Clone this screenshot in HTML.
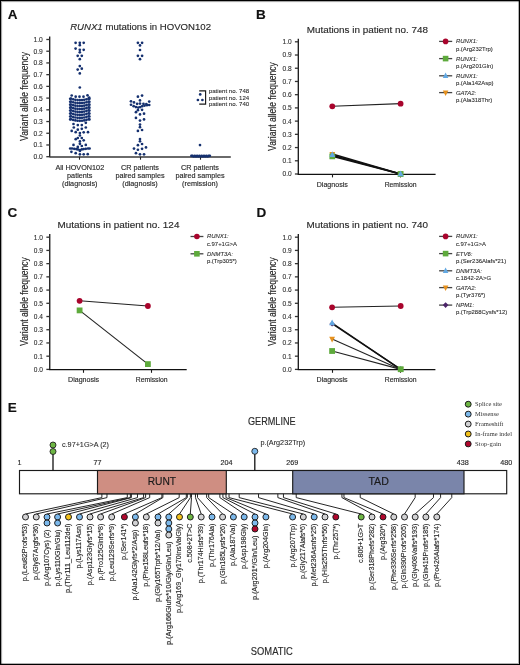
<!DOCTYPE html>
<html><head><meta charset="utf-8"><style>
html,body{margin:0;padding:0;background:#fff;}
body{width:520px;height:665px;overflow:hidden;}
.wrap{position:relative;width:520px;height:665px;box-sizing:border-box;border:1px solid #000;box-shadow:inset 1px 1px 0 rgba(0,0,0,0.32),inset -1px -1px 0 rgba(0,0,0,0.3),inset 2px 2px 0 rgba(0,0,0,0.04);}
svg{position:absolute;left:-1px;top:-1px;will-change:transform;}
text{font-family:"Liberation Sans", sans-serif;}
</style></head><body><div class="wrap">
<svg width="520" height="665" viewBox="0 0 520 665">
<text x="7.70" y="18.70" font-size="13.5" text-anchor="start" fill="#111" stroke="#111" stroke-width="0.150" font-weight="bold" font-style="normal" >A</text>
<text x="70.2" y="29.9" font-size="9.6" fill="#2a2a2a" stroke="#2a2a2a" stroke-width="0.15" textLength="140.8" lengthAdjust="spacingAndGlyphs"><tspan font-style="italic">RUNX1</tspan> mutations in HOVON102</text>
<line x1="49.70" y1="36.40" x2="49.70" y2="157.30" stroke="#151515" stroke-width="1.3"/>
<line x1="46.30" y1="156.70" x2="49.70" y2="156.70" stroke="#333" stroke-width="1.3"/>
<text x="42.80" y="159.11" font-size="6.7" text-anchor="end" fill="#2a2a2a" stroke="#2a2a2a" stroke-width="0.090" font-weight="normal" font-style="normal" >0.0</text>
<line x1="46.30" y1="144.98" x2="49.70" y2="144.98" stroke="#333" stroke-width="1.3"/>
<text x="42.80" y="147.39" font-size="6.7" text-anchor="end" fill="#2a2a2a" stroke="#2a2a2a" stroke-width="0.090" font-weight="normal" font-style="normal" >0.1</text>
<line x1="46.30" y1="133.26" x2="49.70" y2="133.26" stroke="#333" stroke-width="1.3"/>
<text x="42.80" y="135.67" font-size="6.7" text-anchor="end" fill="#2a2a2a" stroke="#2a2a2a" stroke-width="0.090" font-weight="normal" font-style="normal" >0.2</text>
<line x1="46.30" y1="121.54" x2="49.70" y2="121.54" stroke="#333" stroke-width="1.3"/>
<text x="42.80" y="123.95" font-size="6.7" text-anchor="end" fill="#2a2a2a" stroke="#2a2a2a" stroke-width="0.090" font-weight="normal" font-style="normal" >0.3</text>
<line x1="46.30" y1="109.82" x2="49.70" y2="109.82" stroke="#333" stroke-width="1.3"/>
<text x="42.80" y="112.23" font-size="6.7" text-anchor="end" fill="#2a2a2a" stroke="#2a2a2a" stroke-width="0.090" font-weight="normal" font-style="normal" >0.4</text>
<line x1="46.30" y1="98.10" x2="49.70" y2="98.10" stroke="#333" stroke-width="1.3"/>
<text x="42.80" y="100.51" font-size="6.7" text-anchor="end" fill="#2a2a2a" stroke="#2a2a2a" stroke-width="0.090" font-weight="normal" font-style="normal" >0.5</text>
<line x1="46.30" y1="86.38" x2="49.70" y2="86.38" stroke="#333" stroke-width="1.3"/>
<text x="42.80" y="88.79" font-size="6.7" text-anchor="end" fill="#2a2a2a" stroke="#2a2a2a" stroke-width="0.090" font-weight="normal" font-style="normal" >0.6</text>
<line x1="46.30" y1="74.66" x2="49.70" y2="74.66" stroke="#333" stroke-width="1.3"/>
<text x="42.80" y="77.07" font-size="6.7" text-anchor="end" fill="#2a2a2a" stroke="#2a2a2a" stroke-width="0.090" font-weight="normal" font-style="normal" >0.7</text>
<line x1="46.30" y1="62.94" x2="49.70" y2="62.94" stroke="#333" stroke-width="1.3"/>
<text x="42.80" y="65.35" font-size="6.7" text-anchor="end" fill="#2a2a2a" stroke="#2a2a2a" stroke-width="0.090" font-weight="normal" font-style="normal" >0.8</text>
<line x1="46.30" y1="51.22" x2="49.70" y2="51.22" stroke="#333" stroke-width="1.3"/>
<text x="42.80" y="53.63" font-size="6.7" text-anchor="end" fill="#2a2a2a" stroke="#2a2a2a" stroke-width="0.090" font-weight="normal" font-style="normal" >0.9</text>
<line x1="46.30" y1="39.50" x2="49.70" y2="39.50" stroke="#333" stroke-width="1.3"/>
<text x="42.80" y="41.91" font-size="6.7" text-anchor="end" fill="#2a2a2a" stroke="#2a2a2a" stroke-width="0.090" font-weight="normal" font-style="normal" >1.0</text>
<line x1="49.70" y1="157.00" x2="230.80" y2="157.00" stroke="#383838" stroke-width="1.6"/>
<line x1="79.50" y1="156.70" x2="79.50" y2="159.70" stroke="#222" stroke-width="1.1"/>
<line x1="140.50" y1="156.70" x2="140.50" y2="159.70" stroke="#222" stroke-width="1.1"/>
<line x1="200.50" y1="156.70" x2="200.50" y2="159.70" stroke="#222" stroke-width="1.1"/>
<text transform="translate(27.50,96.50) rotate(-90)" x="0" y="0" font-size="11.0" text-anchor="middle" fill="#2a2a2a" stroke="#2a2a2a" stroke-width="0.15" textLength="88.9" lengthAdjust="spacingAndGlyphs">Variant allele frequency</text>
<text x="79.80" y="169.80" font-size="7.1" text-anchor="middle" fill="#2a2a2a" stroke="#2a2a2a" stroke-width="0.150" font-weight="normal" font-style="normal" textLength="48.75" lengthAdjust="spacingAndGlyphs" >All HOVON102</text>
<text x="79.80" y="178.00" font-size="7.1" text-anchor="middle" fill="#2a2a2a" stroke="#2a2a2a" stroke-width="0.150" font-weight="normal" font-style="normal" textLength="25.39" lengthAdjust="spacingAndGlyphs" >patients</text>
<text x="79.80" y="186.20" font-size="7.1" text-anchor="middle" fill="#2a2a2a" stroke="#2a2a2a" stroke-width="0.150" font-weight="normal" font-style="normal" textLength="35.46" lengthAdjust="spacingAndGlyphs" >(diagnosis)</text>
<text x="140.00" y="169.80" font-size="7.1" text-anchor="middle" fill="#2a2a2a" stroke="#2a2a2a" stroke-width="0.150" font-weight="normal" font-style="normal" textLength="37.88" lengthAdjust="spacingAndGlyphs" >CR patients</text>
<text x="140.00" y="178.00" font-size="7.1" text-anchor="middle" fill="#2a2a2a" stroke="#2a2a2a" stroke-width="0.150" font-weight="normal" font-style="normal" textLength="49.16" lengthAdjust="spacingAndGlyphs" >paired samples</text>
<text x="140.00" y="186.20" font-size="7.1" text-anchor="middle" fill="#2a2a2a" stroke="#2a2a2a" stroke-width="0.150" font-weight="normal" font-style="normal" textLength="35.46" lengthAdjust="spacingAndGlyphs" >(diagnosis)</text>
<text x="200.00" y="169.80" font-size="7.1" text-anchor="middle" fill="#2a2a2a" stroke="#2a2a2a" stroke-width="0.150" font-weight="normal" font-style="normal" textLength="37.88" lengthAdjust="spacingAndGlyphs" >CR patients</text>
<text x="200.00" y="178.00" font-size="7.1" text-anchor="middle" fill="#2a2a2a" stroke="#2a2a2a" stroke-width="0.150" font-weight="normal" font-style="normal" textLength="49.16" lengthAdjust="spacingAndGlyphs" >paired samples</text>
<text x="200.00" y="186.20" font-size="7.1" text-anchor="middle" fill="#2a2a2a" stroke="#2a2a2a" stroke-width="0.150" font-weight="normal" font-style="normal" textLength="35.85" lengthAdjust="spacingAndGlyphs" >(remission)</text>
<circle cx="75.60" cy="42.80" r="1.35" fill="#15306f" stroke="none" stroke-width="0"/>
<circle cx="79.80" cy="42.80" r="1.35" fill="#15306f" stroke="none" stroke-width="0"/>
<circle cx="83.70" cy="42.80" r="1.35" fill="#15306f" stroke="none" stroke-width="0"/>
<circle cx="79.80" cy="45.20" r="1.35" fill="#15306f" stroke="none" stroke-width="0"/>
<circle cx="75.60" cy="48.60" r="1.35" fill="#15306f" stroke="none" stroke-width="0"/>
<circle cx="79.80" cy="49.80" r="1.35" fill="#15306f" stroke="none" stroke-width="0"/>
<circle cx="83.70" cy="49.80" r="1.35" fill="#15306f" stroke="none" stroke-width="0"/>
<circle cx="79.80" cy="52.30" r="1.35" fill="#15306f" stroke="none" stroke-width="0"/>
<circle cx="77.70" cy="55.80" r="1.35" fill="#15306f" stroke="none" stroke-width="0"/>
<circle cx="81.80" cy="55.80" r="1.35" fill="#15306f" stroke="none" stroke-width="0"/>
<circle cx="79.80" cy="59.20" r="1.35" fill="#15306f" stroke="none" stroke-width="0"/>
<circle cx="79.80" cy="66.10" r="1.35" fill="#15306f" stroke="none" stroke-width="0"/>
<circle cx="77.70" cy="69.60" r="1.35" fill="#15306f" stroke="none" stroke-width="0"/>
<circle cx="81.80" cy="68.70" r="1.35" fill="#15306f" stroke="none" stroke-width="0"/>
<circle cx="79.80" cy="73.40" r="1.35" fill="#15306f" stroke="none" stroke-width="0"/>
<circle cx="79.80" cy="87.50" r="1.35" fill="#15306f" stroke="none" stroke-width="0"/>
<circle cx="71.70" cy="95.50" r="1.35" fill="#15306f" stroke="none" stroke-width="0"/>
<circle cx="75.70" cy="96.70" r="1.35" fill="#15306f" stroke="none" stroke-width="0"/>
<circle cx="79.50" cy="96.70" r="1.35" fill="#15306f" stroke="none" stroke-width="0"/>
<circle cx="83.50" cy="96.70" r="1.35" fill="#15306f" stroke="none" stroke-width="0"/>
<circle cx="87.50" cy="95.30" r="1.35" fill="#15306f" stroke="none" stroke-width="0"/>
<circle cx="89.20" cy="97.70" r="1.35" fill="#15306f" stroke="none" stroke-width="0"/>
<circle cx="71.00" cy="98.60" r="1.35" fill="#15306f" stroke="none" stroke-width="0"/>
<circle cx="73.20" cy="99.30" r="1.35" fill="#15306f" stroke="none" stroke-width="0"/>
<circle cx="75.40" cy="99.80" r="1.35" fill="#15306f" stroke="none" stroke-width="0"/>
<circle cx="77.60" cy="100.10" r="1.35" fill="#15306f" stroke="none" stroke-width="0"/>
<circle cx="79.80" cy="100.20" r="1.35" fill="#15306f" stroke="none" stroke-width="0"/>
<circle cx="82.00" cy="100.10" r="1.35" fill="#15306f" stroke="none" stroke-width="0"/>
<circle cx="84.20" cy="99.80" r="1.35" fill="#15306f" stroke="none" stroke-width="0"/>
<circle cx="86.40" cy="99.30" r="1.35" fill="#15306f" stroke="none" stroke-width="0"/>
<circle cx="88.60" cy="98.60" r="1.35" fill="#15306f" stroke="none" stroke-width="0"/>
<circle cx="70.20" cy="98.80" r="1.35" fill="#15306f" stroke="none" stroke-width="0"/>
<circle cx="89.40" cy="98.80" r="1.35" fill="#15306f" stroke="none" stroke-width="0"/>
<circle cx="71.00" cy="101.55" r="1.35" fill="#15306f" stroke="none" stroke-width="0"/>
<circle cx="73.20" cy="102.25" r="1.35" fill="#15306f" stroke="none" stroke-width="0"/>
<circle cx="75.40" cy="102.75" r="1.35" fill="#15306f" stroke="none" stroke-width="0"/>
<circle cx="77.60" cy="103.05" r="1.35" fill="#15306f" stroke="none" stroke-width="0"/>
<circle cx="79.80" cy="103.15" r="1.35" fill="#15306f" stroke="none" stroke-width="0"/>
<circle cx="82.00" cy="103.05" r="1.35" fill="#15306f" stroke="none" stroke-width="0"/>
<circle cx="84.20" cy="102.75" r="1.35" fill="#15306f" stroke="none" stroke-width="0"/>
<circle cx="86.40" cy="102.25" r="1.35" fill="#15306f" stroke="none" stroke-width="0"/>
<circle cx="88.60" cy="101.55" r="1.35" fill="#15306f" stroke="none" stroke-width="0"/>
<circle cx="70.20" cy="101.75" r="1.35" fill="#15306f" stroke="none" stroke-width="0"/>
<circle cx="89.40" cy="101.75" r="1.35" fill="#15306f" stroke="none" stroke-width="0"/>
<circle cx="71.00" cy="104.50" r="1.35" fill="#15306f" stroke="none" stroke-width="0"/>
<circle cx="73.20" cy="105.20" r="1.35" fill="#15306f" stroke="none" stroke-width="0"/>
<circle cx="75.40" cy="105.70" r="1.35" fill="#15306f" stroke="none" stroke-width="0"/>
<circle cx="77.60" cy="106.00" r="1.35" fill="#15306f" stroke="none" stroke-width="0"/>
<circle cx="79.80" cy="106.10" r="1.35" fill="#15306f" stroke="none" stroke-width="0"/>
<circle cx="82.00" cy="106.00" r="1.35" fill="#15306f" stroke="none" stroke-width="0"/>
<circle cx="84.20" cy="105.70" r="1.35" fill="#15306f" stroke="none" stroke-width="0"/>
<circle cx="86.40" cy="105.20" r="1.35" fill="#15306f" stroke="none" stroke-width="0"/>
<circle cx="88.60" cy="104.50" r="1.35" fill="#15306f" stroke="none" stroke-width="0"/>
<circle cx="70.20" cy="104.70" r="1.35" fill="#15306f" stroke="none" stroke-width="0"/>
<circle cx="89.40" cy="104.70" r="1.35" fill="#15306f" stroke="none" stroke-width="0"/>
<circle cx="71.00" cy="107.45" r="1.35" fill="#15306f" stroke="none" stroke-width="0"/>
<circle cx="73.20" cy="108.15" r="1.35" fill="#15306f" stroke="none" stroke-width="0"/>
<circle cx="75.40" cy="108.65" r="1.35" fill="#15306f" stroke="none" stroke-width="0"/>
<circle cx="77.60" cy="108.95" r="1.35" fill="#15306f" stroke="none" stroke-width="0"/>
<circle cx="79.80" cy="109.05" r="1.35" fill="#15306f" stroke="none" stroke-width="0"/>
<circle cx="82.00" cy="108.95" r="1.35" fill="#15306f" stroke="none" stroke-width="0"/>
<circle cx="84.20" cy="108.65" r="1.35" fill="#15306f" stroke="none" stroke-width="0"/>
<circle cx="86.40" cy="108.15" r="1.35" fill="#15306f" stroke="none" stroke-width="0"/>
<circle cx="88.60" cy="107.45" r="1.35" fill="#15306f" stroke="none" stroke-width="0"/>
<circle cx="70.20" cy="107.65" r="1.35" fill="#15306f" stroke="none" stroke-width="0"/>
<circle cx="89.40" cy="107.65" r="1.35" fill="#15306f" stroke="none" stroke-width="0"/>
<circle cx="71.00" cy="110.40" r="1.35" fill="#15306f" stroke="none" stroke-width="0"/>
<circle cx="73.20" cy="111.10" r="1.35" fill="#15306f" stroke="none" stroke-width="0"/>
<circle cx="75.40" cy="111.60" r="1.35" fill="#15306f" stroke="none" stroke-width="0"/>
<circle cx="77.60" cy="111.90" r="1.35" fill="#15306f" stroke="none" stroke-width="0"/>
<circle cx="79.80" cy="112.00" r="1.35" fill="#15306f" stroke="none" stroke-width="0"/>
<circle cx="82.00" cy="111.90" r="1.35" fill="#15306f" stroke="none" stroke-width="0"/>
<circle cx="84.20" cy="111.60" r="1.35" fill="#15306f" stroke="none" stroke-width="0"/>
<circle cx="86.40" cy="111.10" r="1.35" fill="#15306f" stroke="none" stroke-width="0"/>
<circle cx="88.60" cy="110.40" r="1.35" fill="#15306f" stroke="none" stroke-width="0"/>
<circle cx="70.20" cy="110.60" r="1.35" fill="#15306f" stroke="none" stroke-width="0"/>
<circle cx="89.40" cy="110.60" r="1.35" fill="#15306f" stroke="none" stroke-width="0"/>
<circle cx="71.00" cy="113.35" r="1.35" fill="#15306f" stroke="none" stroke-width="0"/>
<circle cx="73.20" cy="114.05" r="1.35" fill="#15306f" stroke="none" stroke-width="0"/>
<circle cx="75.40" cy="114.55" r="1.35" fill="#15306f" stroke="none" stroke-width="0"/>
<circle cx="77.60" cy="114.85" r="1.35" fill="#15306f" stroke="none" stroke-width="0"/>
<circle cx="79.80" cy="114.95" r="1.35" fill="#15306f" stroke="none" stroke-width="0"/>
<circle cx="82.00" cy="114.85" r="1.35" fill="#15306f" stroke="none" stroke-width="0"/>
<circle cx="84.20" cy="114.55" r="1.35" fill="#15306f" stroke="none" stroke-width="0"/>
<circle cx="86.40" cy="114.05" r="1.35" fill="#15306f" stroke="none" stroke-width="0"/>
<circle cx="88.60" cy="113.35" r="1.35" fill="#15306f" stroke="none" stroke-width="0"/>
<circle cx="70.20" cy="113.55" r="1.35" fill="#15306f" stroke="none" stroke-width="0"/>
<circle cx="89.40" cy="113.55" r="1.35" fill="#15306f" stroke="none" stroke-width="0"/>
<circle cx="71.00" cy="116.30" r="1.35" fill="#15306f" stroke="none" stroke-width="0"/>
<circle cx="73.20" cy="117.00" r="1.35" fill="#15306f" stroke="none" stroke-width="0"/>
<circle cx="75.40" cy="117.50" r="1.35" fill="#15306f" stroke="none" stroke-width="0"/>
<circle cx="77.60" cy="117.80" r="1.35" fill="#15306f" stroke="none" stroke-width="0"/>
<circle cx="79.80" cy="117.90" r="1.35" fill="#15306f" stroke="none" stroke-width="0"/>
<circle cx="82.00" cy="117.80" r="1.35" fill="#15306f" stroke="none" stroke-width="0"/>
<circle cx="84.20" cy="117.50" r="1.35" fill="#15306f" stroke="none" stroke-width="0"/>
<circle cx="86.40" cy="117.00" r="1.35" fill="#15306f" stroke="none" stroke-width="0"/>
<circle cx="88.60" cy="116.30" r="1.35" fill="#15306f" stroke="none" stroke-width="0"/>
<circle cx="70.20" cy="116.50" r="1.35" fill="#15306f" stroke="none" stroke-width="0"/>
<circle cx="89.40" cy="116.50" r="1.35" fill="#15306f" stroke="none" stroke-width="0"/>
<circle cx="71.00" cy="119.25" r="1.35" fill="#15306f" stroke="none" stroke-width="0"/>
<circle cx="73.20" cy="119.95" r="1.35" fill="#15306f" stroke="none" stroke-width="0"/>
<circle cx="75.40" cy="120.45" r="1.35" fill="#15306f" stroke="none" stroke-width="0"/>
<circle cx="77.60" cy="120.75" r="1.35" fill="#15306f" stroke="none" stroke-width="0"/>
<circle cx="79.80" cy="120.85" r="1.35" fill="#15306f" stroke="none" stroke-width="0"/>
<circle cx="82.00" cy="120.75" r="1.35" fill="#15306f" stroke="none" stroke-width="0"/>
<circle cx="84.20" cy="120.45" r="1.35" fill="#15306f" stroke="none" stroke-width="0"/>
<circle cx="86.40" cy="119.95" r="1.35" fill="#15306f" stroke="none" stroke-width="0"/>
<circle cx="88.60" cy="119.25" r="1.35" fill="#15306f" stroke="none" stroke-width="0"/>
<circle cx="70.20" cy="119.45" r="1.35" fill="#15306f" stroke="none" stroke-width="0"/>
<circle cx="89.40" cy="119.45" r="1.35" fill="#15306f" stroke="none" stroke-width="0"/>
<circle cx="85.80" cy="122.80" r="1.35" fill="#15306f" stroke="none" stroke-width="0"/>
<circle cx="73.50" cy="124.00" r="1.35" fill="#15306f" stroke="none" stroke-width="0"/>
<circle cx="77.80" cy="125.10" r="1.35" fill="#15306f" stroke="none" stroke-width="0"/>
<circle cx="81.80" cy="125.10" r="1.35" fill="#15306f" stroke="none" stroke-width="0"/>
<circle cx="73.80" cy="127.50" r="1.35" fill="#15306f" stroke="none" stroke-width="0"/>
<circle cx="85.80" cy="127.50" r="1.35" fill="#15306f" stroke="none" stroke-width="0"/>
<circle cx="81.80" cy="128.80" r="1.35" fill="#15306f" stroke="none" stroke-width="0"/>
<circle cx="77.80" cy="129.70" r="1.35" fill="#15306f" stroke="none" stroke-width="0"/>
<circle cx="71.70" cy="130.90" r="1.35" fill="#15306f" stroke="none" stroke-width="0"/>
<circle cx="75.70" cy="132.20" r="1.35" fill="#15306f" stroke="none" stroke-width="0"/>
<circle cx="83.70" cy="132.30" r="1.35" fill="#15306f" stroke="none" stroke-width="0"/>
<circle cx="88.00" cy="132.20" r="1.35" fill="#15306f" stroke="none" stroke-width="0"/>
<circle cx="79.90" cy="133.10" r="1.35" fill="#15306f" stroke="none" stroke-width="0"/>
<circle cx="79.90" cy="135.50" r="1.35" fill="#15306f" stroke="none" stroke-width="0"/>
<circle cx="77.80" cy="138.00" r="1.35" fill="#15306f" stroke="none" stroke-width="0"/>
<circle cx="75.70" cy="139.20" r="1.35" fill="#15306f" stroke="none" stroke-width="0"/>
<circle cx="81.80" cy="138.00" r="1.35" fill="#15306f" stroke="none" stroke-width="0"/>
<circle cx="83.70" cy="140.30" r="1.35" fill="#15306f" stroke="none" stroke-width="0"/>
<circle cx="79.90" cy="141.40" r="1.35" fill="#15306f" stroke="none" stroke-width="0"/>
<circle cx="79.90" cy="143.80" r="1.35" fill="#15306f" stroke="none" stroke-width="0"/>
<circle cx="73.50" cy="144.90" r="1.35" fill="#15306f" stroke="none" stroke-width="0"/>
<circle cx="85.80" cy="144.90" r="1.35" fill="#15306f" stroke="none" stroke-width="0"/>
<circle cx="77.80" cy="146.90" r="1.35" fill="#15306f" stroke="none" stroke-width="0"/>
<circle cx="81.80" cy="146.00" r="1.35" fill="#15306f" stroke="none" stroke-width="0"/>
<circle cx="70.20" cy="148.50" r="1.35" fill="#15306f" stroke="none" stroke-width="0"/>
<circle cx="72.00" cy="148.50" r="1.35" fill="#15306f" stroke="none" stroke-width="0"/>
<circle cx="74.20" cy="148.80" r="1.35" fill="#15306f" stroke="none" stroke-width="0"/>
<circle cx="76.30" cy="149.10" r="1.35" fill="#15306f" stroke="none" stroke-width="0"/>
<circle cx="77.80" cy="149.40" r="1.35" fill="#15306f" stroke="none" stroke-width="0"/>
<circle cx="79.90" cy="150.00" r="1.35" fill="#15306f" stroke="none" stroke-width="0"/>
<circle cx="81.80" cy="149.40" r="1.35" fill="#15306f" stroke="none" stroke-width="0"/>
<circle cx="83.70" cy="149.10" r="1.35" fill="#15306f" stroke="none" stroke-width="0"/>
<circle cx="85.80" cy="148.80" r="1.35" fill="#15306f" stroke="none" stroke-width="0"/>
<circle cx="88.00" cy="148.50" r="1.35" fill="#15306f" stroke="none" stroke-width="0"/>
<circle cx="89.60" cy="148.50" r="1.35" fill="#15306f" stroke="none" stroke-width="0"/>
<circle cx="79.90" cy="150.90" r="1.35" fill="#15306f" stroke="none" stroke-width="0"/>
<circle cx="71.40" cy="151.80" r="1.35" fill="#15306f" stroke="none" stroke-width="0"/>
<circle cx="75.70" cy="153.20" r="1.35" fill="#15306f" stroke="none" stroke-width="0"/>
<circle cx="79.90" cy="154.30" r="1.35" fill="#15306f" stroke="none" stroke-width="0"/>
<circle cx="83.70" cy="154.30" r="1.35" fill="#15306f" stroke="none" stroke-width="0"/>
<circle cx="87.70" cy="154.20" r="1.35" fill="#15306f" stroke="none" stroke-width="0"/>
<circle cx="137.90" cy="42.80" r="1.35" fill="#15306f" stroke="none" stroke-width="0"/>
<circle cx="142.10" cy="42.80" r="1.35" fill="#15306f" stroke="none" stroke-width="0"/>
<circle cx="140.00" cy="45.40" r="1.35" fill="#15306f" stroke="none" stroke-width="0"/>
<circle cx="140.00" cy="50.00" r="1.35" fill="#15306f" stroke="none" stroke-width="0"/>
<circle cx="137.90" cy="55.80" r="1.35" fill="#15306f" stroke="none" stroke-width="0"/>
<circle cx="142.10" cy="55.80" r="1.35" fill="#15306f" stroke="none" stroke-width="0"/>
<circle cx="140.00" cy="59.20" r="1.35" fill="#15306f" stroke="none" stroke-width="0"/>
<circle cx="137.91" cy="96.69" r="1.35" fill="#15306f" stroke="none" stroke-width="0"/>
<circle cx="142.06" cy="95.54" r="1.35" fill="#15306f" stroke="none" stroke-width="0"/>
<circle cx="139.99" cy="100.38" r="1.35" fill="#15306f" stroke="none" stroke-width="0"/>
<circle cx="130.99" cy="101.30" r="1.35" fill="#15306f" stroke="none" stroke-width="0"/>
<circle cx="133.99" cy="102.46" r="1.35" fill="#15306f" stroke="none" stroke-width="0"/>
<circle cx="137.10" cy="103.84" r="1.35" fill="#15306f" stroke="none" stroke-width="0"/>
<circle cx="139.99" cy="103.61" r="1.35" fill="#15306f" stroke="none" stroke-width="0"/>
<circle cx="143.45" cy="103.84" r="1.35" fill="#15306f" stroke="none" stroke-width="0"/>
<circle cx="146.33" cy="104.07" r="1.35" fill="#15306f" stroke="none" stroke-width="0"/>
<circle cx="149.22" cy="101.53" r="1.35" fill="#15306f" stroke="none" stroke-width="0"/>
<circle cx="130.99" cy="104.76" r="1.35" fill="#15306f" stroke="none" stroke-width="0"/>
<circle cx="133.64" cy="106.15" r="1.35" fill="#15306f" stroke="none" stroke-width="0"/>
<circle cx="135.95" cy="107.07" r="1.35" fill="#15306f" stroke="none" stroke-width="0"/>
<circle cx="138.26" cy="107.53" r="1.35" fill="#15306f" stroke="none" stroke-width="0"/>
<circle cx="140.22" cy="107.07" r="1.35" fill="#15306f" stroke="none" stroke-width="0"/>
<circle cx="142.30" cy="106.15" r="1.35" fill="#15306f" stroke="none" stroke-width="0"/>
<circle cx="144.60" cy="105.57" r="1.35" fill="#15306f" stroke="none" stroke-width="0"/>
<circle cx="146.91" cy="105.22" r="1.35" fill="#15306f" stroke="none" stroke-width="0"/>
<circle cx="149.22" cy="104.99" r="1.35" fill="#15306f" stroke="none" stroke-width="0"/>
<circle cx="137.91" cy="110.18" r="1.35" fill="#15306f" stroke="none" stroke-width="0"/>
<circle cx="142.06" cy="109.84" r="1.35" fill="#15306f" stroke="none" stroke-width="0"/>
<circle cx="135.95" cy="112.15" r="1.35" fill="#15306f" stroke="none" stroke-width="0"/>
<circle cx="139.99" cy="114.45" r="1.35" fill="#15306f" stroke="none" stroke-width="0"/>
<circle cx="144.03" cy="113.64" r="1.35" fill="#15306f" stroke="none" stroke-width="0"/>
<circle cx="135.95" cy="117.91" r="1.35" fill="#15306f" stroke="none" stroke-width="0"/>
<circle cx="139.99" cy="120.57" r="1.35" fill="#15306f" stroke="none" stroke-width="0"/>
<circle cx="144.03" cy="119.41" r="1.35" fill="#15306f" stroke="none" stroke-width="0"/>
<circle cx="139.99" cy="124.60" r="1.35" fill="#15306f" stroke="none" stroke-width="0"/>
<circle cx="139.99" cy="127.14" r="1.35" fill="#15306f" stroke="none" stroke-width="0"/>
<circle cx="137.91" cy="130.95" r="1.35" fill="#15306f" stroke="none" stroke-width="0"/>
<circle cx="142.06" cy="130.02" r="1.35" fill="#15306f" stroke="none" stroke-width="0"/>
<circle cx="139.99" cy="139.02" r="1.35" fill="#15306f" stroke="none" stroke-width="0"/>
<circle cx="139.99" cy="141.33" r="1.35" fill="#15306f" stroke="none" stroke-width="0"/>
<circle cx="137.91" cy="145.13" r="1.35" fill="#15306f" stroke="none" stroke-width="0"/>
<circle cx="142.06" cy="143.98" r="1.35" fill="#15306f" stroke="none" stroke-width="0"/>
<circle cx="133.99" cy="148.59" r="1.35" fill="#15306f" stroke="none" stroke-width="0"/>
<circle cx="137.91" cy="149.75" r="1.35" fill="#15306f" stroke="none" stroke-width="0"/>
<circle cx="142.06" cy="148.82" r="1.35" fill="#15306f" stroke="none" stroke-width="0"/>
<circle cx="145.99" cy="147.44" r="1.35" fill="#15306f" stroke="none" stroke-width="0"/>
<circle cx="135.95" cy="153.21" r="1.35" fill="#15306f" stroke="none" stroke-width="0"/>
<circle cx="139.99" cy="154.36" r="1.35" fill="#15306f" stroke="none" stroke-width="0"/>
<circle cx="144.03" cy="154.36" r="1.35" fill="#15306f" stroke="none" stroke-width="0"/>
<circle cx="200.20" cy="94.40" r="1.35" fill="#15306f" stroke="none" stroke-width="0"/>
<circle cx="197.90" cy="100.00" r="1.35" fill="#15306f" stroke="none" stroke-width="0"/>
<circle cx="202.40" cy="100.00" r="1.35" fill="#15306f" stroke="none" stroke-width="0"/>
<circle cx="200.00" cy="145.10" r="1.35" fill="#15306f" stroke="none" stroke-width="0"/>
<circle cx="191.40" cy="155.80" r="1.35" fill="#15306f" stroke="none" stroke-width="0"/>
<circle cx="193.70" cy="156.50" r="1.35" fill="#15306f" stroke="none" stroke-width="0"/>
<circle cx="196.00" cy="156.50" r="1.35" fill="#15306f" stroke="none" stroke-width="0"/>
<circle cx="198.30" cy="156.50" r="1.35" fill="#15306f" stroke="none" stroke-width="0"/>
<circle cx="200.60" cy="156.50" r="1.35" fill="#15306f" stroke="none" stroke-width="0"/>
<circle cx="202.90" cy="156.50" r="1.35" fill="#15306f" stroke="none" stroke-width="0"/>
<circle cx="205.20" cy="156.50" r="1.35" fill="#15306f" stroke="none" stroke-width="0"/>
<circle cx="207.50" cy="156.50" r="1.35" fill="#15306f" stroke="none" stroke-width="0"/>
<circle cx="209.80" cy="155.80" r="1.35" fill="#15306f" stroke="none" stroke-width="0"/>
<circle cx="192.50" cy="155.90" r="1.35" fill="#15306f" stroke="none" stroke-width="0"/>
<circle cx="194.80" cy="155.90" r="1.35" fill="#15306f" stroke="none" stroke-width="0"/>
<circle cx="197.10" cy="155.90" r="1.35" fill="#15306f" stroke="none" stroke-width="0"/>
<circle cx="199.40" cy="155.90" r="1.35" fill="#15306f" stroke="none" stroke-width="0"/>
<circle cx="201.70" cy="155.90" r="1.35" fill="#15306f" stroke="none" stroke-width="0"/>
<circle cx="204.00" cy="155.90" r="1.35" fill="#15306f" stroke="none" stroke-width="0"/>
<circle cx="206.30" cy="155.90" r="1.35" fill="#15306f" stroke="none" stroke-width="0"/>
<circle cx="208.60" cy="155.90" r="1.35" fill="#15306f" stroke="none" stroke-width="0"/>
<polyline points="199.2,90.9 205.6,90.9 205.6,104.1 199.2,104.1" fill="none" stroke="#1a1a1a" stroke-width="1.15"/>
<text x="208.80" y="92.60" font-size="6.1" text-anchor="start" fill="#2a2a2a" stroke="#2a2a2a" stroke-width="0.090" font-weight="normal" font-style="normal" textLength="40.40" lengthAdjust="spacingAndGlyphs" >patient no. 748</text>
<text x="208.80" y="99.50" font-size="6.1" text-anchor="start" fill="#2a2a2a" stroke="#2a2a2a" stroke-width="0.090" font-weight="normal" font-style="normal" textLength="40.40" lengthAdjust="spacingAndGlyphs" >patient no. 124</text>
<text x="208.80" y="106.40" font-size="6.1" text-anchor="start" fill="#2a2a2a" stroke="#2a2a2a" stroke-width="0.090" font-weight="normal" font-style="normal" textLength="40.40" lengthAdjust="spacingAndGlyphs" >patient no. 740</text>
<text x="256.00" y="18.80" font-size="13.5" text-anchor="start" fill="#111" stroke="#111" stroke-width="0.150" font-weight="bold" font-style="normal" >B</text>
<text x="306.70" y="33.30" font-size="9.6" text-anchor="start" fill="#2a2a2a" stroke="#2a2a2a" stroke-width="0.150" font-weight="normal" font-style="normal" textLength="121.30" lengthAdjust="spacingAndGlyphs" >Mutations in patient no. 748</text>
<line x1="298.30" y1="38.70" x2="298.30" y2="174.60" stroke="#151515" stroke-width="1.3"/>
<line x1="294.90" y1="174.00" x2="298.30" y2="174.00" stroke="#333" stroke-width="1.3"/>
<text x="291.70" y="176.38" font-size="6.6" text-anchor="end" fill="#2a2a2a" stroke="#2a2a2a" stroke-width="0.090" font-weight="normal" font-style="normal" >0.0</text>
<line x1="294.90" y1="160.78" x2="298.30" y2="160.78" stroke="#333" stroke-width="1.3"/>
<text x="291.70" y="163.16" font-size="6.6" text-anchor="end" fill="#2a2a2a" stroke="#2a2a2a" stroke-width="0.090" font-weight="normal" font-style="normal" >0.1</text>
<line x1="294.90" y1="147.56" x2="298.30" y2="147.56" stroke="#333" stroke-width="1.3"/>
<text x="291.70" y="149.94" font-size="6.6" text-anchor="end" fill="#2a2a2a" stroke="#2a2a2a" stroke-width="0.090" font-weight="normal" font-style="normal" >0.2</text>
<line x1="294.90" y1="134.34" x2="298.30" y2="134.34" stroke="#333" stroke-width="1.3"/>
<text x="291.70" y="136.72" font-size="6.6" text-anchor="end" fill="#2a2a2a" stroke="#2a2a2a" stroke-width="0.090" font-weight="normal" font-style="normal" >0.3</text>
<line x1="294.90" y1="121.12" x2="298.30" y2="121.12" stroke="#333" stroke-width="1.3"/>
<text x="291.70" y="123.50" font-size="6.6" text-anchor="end" fill="#2a2a2a" stroke="#2a2a2a" stroke-width="0.090" font-weight="normal" font-style="normal" >0.4</text>
<line x1="294.90" y1="107.90" x2="298.30" y2="107.90" stroke="#333" stroke-width="1.3"/>
<text x="291.70" y="110.28" font-size="6.6" text-anchor="end" fill="#2a2a2a" stroke="#2a2a2a" stroke-width="0.090" font-weight="normal" font-style="normal" >0.5</text>
<line x1="294.90" y1="94.68" x2="298.30" y2="94.68" stroke="#333" stroke-width="1.3"/>
<text x="291.70" y="97.06" font-size="6.6" text-anchor="end" fill="#2a2a2a" stroke="#2a2a2a" stroke-width="0.090" font-weight="normal" font-style="normal" >0.6</text>
<line x1="294.90" y1="81.46" x2="298.30" y2="81.46" stroke="#333" stroke-width="1.3"/>
<text x="291.70" y="83.84" font-size="6.6" text-anchor="end" fill="#2a2a2a" stroke="#2a2a2a" stroke-width="0.090" font-weight="normal" font-style="normal" >0.7</text>
<line x1="294.90" y1="68.24" x2="298.30" y2="68.24" stroke="#333" stroke-width="1.3"/>
<text x="291.70" y="70.62" font-size="6.6" text-anchor="end" fill="#2a2a2a" stroke="#2a2a2a" stroke-width="0.090" font-weight="normal" font-style="normal" >0.8</text>
<line x1="294.90" y1="55.02" x2="298.30" y2="55.02" stroke="#333" stroke-width="1.3"/>
<text x="291.70" y="57.40" font-size="6.6" text-anchor="end" fill="#2a2a2a" stroke="#2a2a2a" stroke-width="0.090" font-weight="normal" font-style="normal" >0.9</text>
<line x1="294.90" y1="41.80" x2="298.30" y2="41.80" stroke="#333" stroke-width="1.3"/>
<text x="291.70" y="44.18" font-size="6.6" text-anchor="end" fill="#2a2a2a" stroke="#2a2a2a" stroke-width="0.090" font-weight="normal" font-style="normal" >1.0</text>
<line x1="297.70" y1="174.40" x2="435.60" y2="174.40" stroke="#111" stroke-width="1.25"/>
<line x1="332.50" y1="174.00" x2="332.50" y2="177.40" stroke="#1a1a1a" stroke-width="1.1"/>
<line x1="400.50" y1="174.00" x2="400.50" y2="177.40" stroke="#1a1a1a" stroke-width="1.1"/>
<text x="332.30" y="186.80" font-size="7.0" text-anchor="middle" fill="#2a2a2a" stroke="#2a2a2a" stroke-width="0.150" font-weight="normal" font-style="normal" textLength="31.10" lengthAdjust="spacingAndGlyphs" >Diagnosis</text>
<text x="400.60" y="186.80" font-size="7.0" text-anchor="middle" fill="#2a2a2a" stroke="#2a2a2a" stroke-width="0.150" font-weight="normal" font-style="normal" textLength="31.90" lengthAdjust="spacingAndGlyphs" >Remission</text>
<text transform="translate(275.80,106.50) rotate(-90)" x="0" y="0" font-size="11.0" text-anchor="middle" fill="#2a2a2a" stroke="#2a2a2a" stroke-width="0.15" textLength="88.8" lengthAdjust="spacingAndGlyphs">Variant allele frequency</text>
<line x1="332.30" y1="106.32" x2="400.60" y2="103.67" stroke="#222" stroke-width="1.1"/>
<line x1="332.30" y1="156.35" x2="400.60" y2="174.00" stroke="#111" stroke-width="1.5"/>
<line x1="332.30" y1="155.16" x2="400.60" y2="174.00" stroke="#111" stroke-width="1.5"/>
<line x1="332.30" y1="154.09" x2="400.60" y2="174.00" stroke="#111" stroke-width="1.5"/>
<polygon points="329.40,151.92 335.20,151.92 332.30,157.50" fill="#e6911e"/>
<rect x="329.40" y="153.45" width="5.80" height="5.80" fill="#5eaa3c"/>
<polygon points="332.30,151.36 335.20,156.93 329.40,156.93" fill="#62a8e2"/>
<circle cx="332.30" cy="106.32" r="2.90" fill="#a8042c" stroke="none" stroke-width="0"/>
<circle cx="400.60" cy="103.67" r="2.90" fill="#a8042c" stroke="none" stroke-width="0"/>
<polygon points="397.70,171.82 403.50,171.82 400.60,177.40" fill="#e6911e"/>
<rect x="397.70" y="171.10" width="5.80" height="5.80" fill="#5eaa3c"/>
<polygon points="400.60,170.60 403.50,176.18 397.70,176.18" fill="#62a8e2"/>
<line x1="439.10" y1="41.40" x2="452.20" y2="41.40" stroke="#444" stroke-width="1.3"/>
<circle cx="445.60" cy="41.40" r="2.80" fill="#a8042c" stroke="none" stroke-width="0"/>
<text x="455.90" y="43.30" font-size="6.2" text-anchor="start" fill="#2a2a2a" stroke="#2a2a2a" stroke-width="0.090" font-weight="normal" font-style="italic" textLength="21.82" lengthAdjust="spacingAndGlyphs" >RUNX1:</text>
<text x="455.90" y="50.50" font-size="6.2" text-anchor="start" fill="#2a2a2a" stroke="#2a2a2a" stroke-width="0.090" font-weight="normal" font-style="normal" textLength="36.81" lengthAdjust="spacingAndGlyphs" >p.(Arg232Trp)</text>
<line x1="439.10" y1="58.60" x2="452.20" y2="58.60" stroke="#444" stroke-width="1.3"/>
<rect x="442.80" y="55.80" width="5.60" height="5.60" fill="#5eaa3c"/>
<text x="455.90" y="60.50" font-size="6.2" text-anchor="start" fill="#2a2a2a" stroke="#2a2a2a" stroke-width="0.090" font-weight="normal" font-style="italic" textLength="21.82" lengthAdjust="spacingAndGlyphs" >RUNX1:</text>
<text x="455.90" y="67.70" font-size="6.2" text-anchor="start" fill="#2a2a2a" stroke="#2a2a2a" stroke-width="0.090" font-weight="normal" font-style="normal" textLength="37.37" lengthAdjust="spacingAndGlyphs" >p.(Arg201Gln)</text>
<line x1="439.10" y1="75.80" x2="452.20" y2="75.80" stroke="#444" stroke-width="1.3"/>
<polygon points="445.60,72.50 448.40,77.90 442.80,77.90" fill="#62a8e2"/>
<text x="455.90" y="77.70" font-size="6.2" text-anchor="start" fill="#2a2a2a" stroke="#2a2a2a" stroke-width="0.090" font-weight="normal" font-style="italic" textLength="21.82" lengthAdjust="spacingAndGlyphs" >RUNX1:</text>
<text x="455.90" y="84.90" font-size="6.2" text-anchor="start" fill="#2a2a2a" stroke="#2a2a2a" stroke-width="0.090" font-weight="normal" font-style="normal" textLength="37.70" lengthAdjust="spacingAndGlyphs" >p.(Ala142Asp)</text>
<line x1="439.10" y1="92.60" x2="452.20" y2="92.60" stroke="#444" stroke-width="1.3"/>
<polygon points="442.80,90.50 448.40,90.50 445.60,95.90" fill="#e6911e"/>
<text x="455.90" y="94.50" font-size="6.2" text-anchor="start" fill="#2a2a2a" stroke="#2a2a2a" stroke-width="0.090" font-weight="normal" font-style="italic" textLength="20.28" lengthAdjust="spacingAndGlyphs" >GATA2:</text>
<text x="455.90" y="101.70" font-size="6.2" text-anchor="start" fill="#2a2a2a" stroke="#2a2a2a" stroke-width="0.090" font-weight="normal" font-style="normal" textLength="36.37" lengthAdjust="spacingAndGlyphs" >p.(Ala318Thr)</text>
<text x="7.60" y="217.10" font-size="13.5" text-anchor="start" fill="#111" stroke="#111" stroke-width="0.150" font-weight="bold" font-style="normal" >C</text>
<text x="57.50" y="228.40" font-size="9.6" text-anchor="start" fill="#2a2a2a" stroke="#2a2a2a" stroke-width="0.150" font-weight="normal" font-style="normal" textLength="121.90" lengthAdjust="spacingAndGlyphs" >Mutations in patient no. 124</text>
<line x1="49.75" y1="234.10" x2="49.75" y2="370.00" stroke="#151515" stroke-width="1.3"/>
<line x1="46.35" y1="369.40" x2="49.75" y2="369.40" stroke="#333" stroke-width="1.3"/>
<text x="42.90" y="371.78" font-size="6.6" text-anchor="end" fill="#2a2a2a" stroke="#2a2a2a" stroke-width="0.090" font-weight="normal" font-style="normal" >0.0</text>
<line x1="46.35" y1="356.18" x2="49.75" y2="356.18" stroke="#333" stroke-width="1.3"/>
<text x="42.90" y="358.56" font-size="6.6" text-anchor="end" fill="#2a2a2a" stroke="#2a2a2a" stroke-width="0.090" font-weight="normal" font-style="normal" >0.1</text>
<line x1="46.35" y1="342.96" x2="49.75" y2="342.96" stroke="#333" stroke-width="1.3"/>
<text x="42.90" y="345.34" font-size="6.6" text-anchor="end" fill="#2a2a2a" stroke="#2a2a2a" stroke-width="0.090" font-weight="normal" font-style="normal" >0.2</text>
<line x1="46.35" y1="329.74" x2="49.75" y2="329.74" stroke="#333" stroke-width="1.3"/>
<text x="42.90" y="332.12" font-size="6.6" text-anchor="end" fill="#2a2a2a" stroke="#2a2a2a" stroke-width="0.090" font-weight="normal" font-style="normal" >0.3</text>
<line x1="46.35" y1="316.52" x2="49.75" y2="316.52" stroke="#333" stroke-width="1.3"/>
<text x="42.90" y="318.90" font-size="6.6" text-anchor="end" fill="#2a2a2a" stroke="#2a2a2a" stroke-width="0.090" font-weight="normal" font-style="normal" >0.4</text>
<line x1="46.35" y1="303.30" x2="49.75" y2="303.30" stroke="#333" stroke-width="1.3"/>
<text x="42.90" y="305.68" font-size="6.6" text-anchor="end" fill="#2a2a2a" stroke="#2a2a2a" stroke-width="0.090" font-weight="normal" font-style="normal" >0.5</text>
<line x1="46.35" y1="290.08" x2="49.75" y2="290.08" stroke="#333" stroke-width="1.3"/>
<text x="42.90" y="292.46" font-size="6.6" text-anchor="end" fill="#2a2a2a" stroke="#2a2a2a" stroke-width="0.090" font-weight="normal" font-style="normal" >0.6</text>
<line x1="46.35" y1="276.86" x2="49.75" y2="276.86" stroke="#333" stroke-width="1.3"/>
<text x="42.90" y="279.24" font-size="6.6" text-anchor="end" fill="#2a2a2a" stroke="#2a2a2a" stroke-width="0.090" font-weight="normal" font-style="normal" >0.7</text>
<line x1="46.35" y1="263.64" x2="49.75" y2="263.64" stroke="#333" stroke-width="1.3"/>
<text x="42.90" y="266.02" font-size="6.6" text-anchor="end" fill="#2a2a2a" stroke="#2a2a2a" stroke-width="0.090" font-weight="normal" font-style="normal" >0.8</text>
<line x1="46.35" y1="250.42" x2="49.75" y2="250.42" stroke="#333" stroke-width="1.3"/>
<text x="42.90" y="252.80" font-size="6.6" text-anchor="end" fill="#2a2a2a" stroke="#2a2a2a" stroke-width="0.090" font-weight="normal" font-style="normal" >0.9</text>
<line x1="46.35" y1="237.20" x2="49.75" y2="237.20" stroke="#333" stroke-width="1.3"/>
<text x="42.90" y="239.58" font-size="6.6" text-anchor="end" fill="#2a2a2a" stroke="#2a2a2a" stroke-width="0.090" font-weight="normal" font-style="normal" >1.0</text>
<line x1="49.15" y1="369.50" x2="186.70" y2="369.50" stroke="#111" stroke-width="1.25"/>
<line x1="83.50" y1="369.40" x2="83.50" y2="372.80" stroke="#1a1a1a" stroke-width="1.1"/>
<line x1="151.50" y1="369.40" x2="151.50" y2="372.80" stroke="#1a1a1a" stroke-width="1.1"/>
<text x="83.60" y="381.90" font-size="7.0" text-anchor="middle" fill="#2a2a2a" stroke="#2a2a2a" stroke-width="0.150" font-weight="normal" font-style="normal" textLength="31.10" lengthAdjust="spacingAndGlyphs" >Diagnosis</text>
<text x="151.70" y="381.90" font-size="7.0" text-anchor="middle" fill="#2a2a2a" stroke="#2a2a2a" stroke-width="0.150" font-weight="normal" font-style="normal" textLength="31.90" lengthAdjust="spacingAndGlyphs" >Remission</text>
<text transform="translate(27.50,301.50) rotate(-90)" x="0" y="0" font-size="11.0" text-anchor="middle" fill="#2a2a2a" stroke="#2a2a2a" stroke-width="0.15" textLength="88.8" lengthAdjust="spacingAndGlyphs">Variant allele frequency</text>
<line x1="79.60" y1="300.80" x2="147.90" y2="306.00" stroke="#222" stroke-width="1.1"/>
<line x1="79.60" y1="310.40" x2="147.90" y2="364.10" stroke="#222" stroke-width="1.1"/>
<circle cx="79.60" cy="300.80" r="2.90" fill="#a8042c" stroke="none" stroke-width="0"/>
<rect x="76.70" y="307.50" width="5.80" height="5.80" fill="#5eaa3c"/>
<circle cx="147.90" cy="306.00" r="2.90" fill="#a8042c" stroke="none" stroke-width="0"/>
<rect x="145.00" y="361.20" width="5.80" height="5.80" fill="#5eaa3c"/>
<line x1="190.50" y1="236.50" x2="203.40" y2="236.50" stroke="#444" stroke-width="1.3"/>
<circle cx="196.90" cy="236.50" r="2.80" fill="#a8042c" stroke="none" stroke-width="0"/>
<text x="206.90" y="238.40" font-size="6.2" text-anchor="start" fill="#2a2a2a" stroke="#2a2a2a" stroke-width="0.090" font-weight="normal" font-style="italic" textLength="21.82" lengthAdjust="spacingAndGlyphs" >RUNX1:</text>
<text x="206.90" y="245.60" font-size="6.2" text-anchor="start" fill="#2a2a2a" stroke="#2a2a2a" stroke-width="0.090" font-weight="normal" font-style="normal" textLength="30.10" lengthAdjust="spacingAndGlyphs" >c.97+1G&gt;A</text>
<line x1="190.50" y1="253.80" x2="203.40" y2="253.80" stroke="#444" stroke-width="1.3"/>
<rect x="194.10" y="251.00" width="5.60" height="5.60" fill="#5eaa3c"/>
<text x="206.90" y="255.70" font-size="6.2" text-anchor="start" fill="#2a2a2a" stroke="#2a2a2a" stroke-width="0.090" font-weight="normal" font-style="italic" textLength="26.11" lengthAdjust="spacingAndGlyphs" >DNMT3A:</text>
<text x="206.90" y="262.90" font-size="6.2" text-anchor="start" fill="#2a2a2a" stroke="#2a2a2a" stroke-width="0.090" font-weight="normal" font-style="normal" textLength="29.87" lengthAdjust="spacingAndGlyphs" >p.(Trp305*)</text>
<text x="256.50" y="216.90" font-size="13.5" text-anchor="start" fill="#111" stroke="#111" stroke-width="0.150" font-weight="bold" font-style="normal" >D</text>
<text x="306.50" y="228.40" font-size="9.6" text-anchor="start" fill="#2a2a2a" stroke="#2a2a2a" stroke-width="0.150" font-weight="normal" font-style="normal" textLength="121.50" lengthAdjust="spacingAndGlyphs" >Mutations in patient no. 740</text>
<line x1="298.30" y1="234.10" x2="298.30" y2="370.00" stroke="#151515" stroke-width="1.3"/>
<line x1="294.90" y1="369.40" x2="298.30" y2="369.40" stroke="#333" stroke-width="1.3"/>
<text x="291.70" y="371.78" font-size="6.6" text-anchor="end" fill="#2a2a2a" stroke="#2a2a2a" stroke-width="0.090" font-weight="normal" font-style="normal" >0.0</text>
<line x1="294.90" y1="356.18" x2="298.30" y2="356.18" stroke="#333" stroke-width="1.3"/>
<text x="291.70" y="358.56" font-size="6.6" text-anchor="end" fill="#2a2a2a" stroke="#2a2a2a" stroke-width="0.090" font-weight="normal" font-style="normal" >0.1</text>
<line x1="294.90" y1="342.96" x2="298.30" y2="342.96" stroke="#333" stroke-width="1.3"/>
<text x="291.70" y="345.34" font-size="6.6" text-anchor="end" fill="#2a2a2a" stroke="#2a2a2a" stroke-width="0.090" font-weight="normal" font-style="normal" >0.2</text>
<line x1="294.90" y1="329.74" x2="298.30" y2="329.74" stroke="#333" stroke-width="1.3"/>
<text x="291.70" y="332.12" font-size="6.6" text-anchor="end" fill="#2a2a2a" stroke="#2a2a2a" stroke-width="0.090" font-weight="normal" font-style="normal" >0.3</text>
<line x1="294.90" y1="316.52" x2="298.30" y2="316.52" stroke="#333" stroke-width="1.3"/>
<text x="291.70" y="318.90" font-size="6.6" text-anchor="end" fill="#2a2a2a" stroke="#2a2a2a" stroke-width="0.090" font-weight="normal" font-style="normal" >0.4</text>
<line x1="294.90" y1="303.30" x2="298.30" y2="303.30" stroke="#333" stroke-width="1.3"/>
<text x="291.70" y="305.68" font-size="6.6" text-anchor="end" fill="#2a2a2a" stroke="#2a2a2a" stroke-width="0.090" font-weight="normal" font-style="normal" >0.5</text>
<line x1="294.90" y1="290.08" x2="298.30" y2="290.08" stroke="#333" stroke-width="1.3"/>
<text x="291.70" y="292.46" font-size="6.6" text-anchor="end" fill="#2a2a2a" stroke="#2a2a2a" stroke-width="0.090" font-weight="normal" font-style="normal" >0.6</text>
<line x1="294.90" y1="276.86" x2="298.30" y2="276.86" stroke="#333" stroke-width="1.3"/>
<text x="291.70" y="279.24" font-size="6.6" text-anchor="end" fill="#2a2a2a" stroke="#2a2a2a" stroke-width="0.090" font-weight="normal" font-style="normal" >0.7</text>
<line x1="294.90" y1="263.64" x2="298.30" y2="263.64" stroke="#333" stroke-width="1.3"/>
<text x="291.70" y="266.02" font-size="6.6" text-anchor="end" fill="#2a2a2a" stroke="#2a2a2a" stroke-width="0.090" font-weight="normal" font-style="normal" >0.8</text>
<line x1="294.90" y1="250.42" x2="298.30" y2="250.42" stroke="#333" stroke-width="1.3"/>
<text x="291.70" y="252.80" font-size="6.6" text-anchor="end" fill="#2a2a2a" stroke="#2a2a2a" stroke-width="0.090" font-weight="normal" font-style="normal" >0.9</text>
<line x1="294.90" y1="237.20" x2="298.30" y2="237.20" stroke="#333" stroke-width="1.3"/>
<text x="291.70" y="239.58" font-size="6.6" text-anchor="end" fill="#2a2a2a" stroke="#2a2a2a" stroke-width="0.090" font-weight="normal" font-style="normal" >1.0</text>
<line x1="297.70" y1="369.50" x2="435.40" y2="369.50" stroke="#111" stroke-width="1.25"/>
<line x1="332.50" y1="369.40" x2="332.50" y2="372.80" stroke="#1a1a1a" stroke-width="1.1"/>
<line x1="400.50" y1="369.40" x2="400.50" y2="372.80" stroke="#1a1a1a" stroke-width="1.1"/>
<text x="332.10" y="381.90" font-size="7.0" text-anchor="middle" fill="#2a2a2a" stroke="#2a2a2a" stroke-width="0.150" font-weight="normal" font-style="normal" textLength="31.10" lengthAdjust="spacingAndGlyphs" >Diagnosis</text>
<text x="400.70" y="381.90" font-size="7.0" text-anchor="middle" fill="#2a2a2a" stroke="#2a2a2a" stroke-width="0.150" font-weight="normal" font-style="normal" textLength="31.90" lengthAdjust="spacingAndGlyphs" >Remission</text>
<text transform="translate(275.80,301.50) rotate(-90)" x="0" y="0" font-size="11.0" text-anchor="middle" fill="#2a2a2a" stroke="#2a2a2a" stroke-width="0.15" textLength="88.8" lengthAdjust="spacingAndGlyphs">Variant allele frequency</text>
<line x1="332.10" y1="307.30" x2="400.70" y2="306.00" stroke="#222" stroke-width="1.1"/>
<line x1="332.10" y1="323.00" x2="400.70" y2="369.40" stroke="#111" stroke-width="1.3"/>
<line x1="332.10" y1="323.70" x2="400.70" y2="369.40" stroke="#111" stroke-width="1.3"/>
<line x1="332.10" y1="339.00" x2="400.70" y2="369.40" stroke="#222" stroke-width="1.1"/>
<line x1="332.10" y1="351.00" x2="400.70" y2="369.40" stroke="#222" stroke-width="1.1"/>
<polygon points="332.10,321.20 334.80,323.90 332.10,326.60 329.40,323.90" fill="#4b2468"/>
<polygon points="332.10,319.60 335.00,325.18 329.20,325.18" fill="#62a8e2"/>
<polygon points="329.20,336.82 335.00,336.82 332.10,342.40" fill="#e6911e"/>
<rect x="329.20" y="348.10" width="5.80" height="5.80" fill="#5eaa3c"/>
<circle cx="332.10" cy="307.30" r="2.90" fill="#a8042c" stroke="none" stroke-width="0"/>
<circle cx="400.70" cy="306.00" r="2.90" fill="#a8042c" stroke="none" stroke-width="0"/>
<polygon points="400.70,366.30 403.60,369.20 400.70,372.10 397.80,369.20" fill="#4b2468"/>
<polygon points="400.70,365.80 403.60,371.38 397.80,371.38" fill="#62a8e2"/>
<polygon points="397.80,367.02 403.60,367.02 400.70,372.60" fill="#e6911e"/>
<rect x="397.80" y="366.30" width="5.80" height="5.80" fill="#5eaa3c"/>
<line x1="439.10" y1="236.40" x2="452.20" y2="236.40" stroke="#444" stroke-width="1.3"/>
<circle cx="445.60" cy="236.40" r="2.80" fill="#a8042c" stroke="none" stroke-width="0"/>
<text x="455.90" y="238.30" font-size="6.2" text-anchor="start" fill="#2a2a2a" stroke="#2a2a2a" stroke-width="0.090" font-weight="normal" font-style="italic" textLength="21.82" lengthAdjust="spacingAndGlyphs" >RUNX1:</text>
<text x="455.90" y="245.50" font-size="6.2" text-anchor="start" fill="#2a2a2a" stroke="#2a2a2a" stroke-width="0.090" font-weight="normal" font-style="normal" textLength="30.10" lengthAdjust="spacingAndGlyphs" >c.97+1G&gt;A</text>
<line x1="439.10" y1="253.60" x2="452.20" y2="253.60" stroke="#444" stroke-width="1.3"/>
<rect x="442.80" y="250.80" width="5.60" height="5.60" fill="#5eaa3c"/>
<text x="455.90" y="255.50" font-size="6.2" text-anchor="start" fill="#2a2a2a" stroke="#2a2a2a" stroke-width="0.090" font-weight="normal" font-style="italic" textLength="16.53" lengthAdjust="spacingAndGlyphs" >ETV6:</text>
<text x="455.90" y="262.70" font-size="6.2" text-anchor="start" fill="#2a2a2a" stroke="#2a2a2a" stroke-width="0.090" font-weight="normal" font-style="normal" textLength="50.27" lengthAdjust="spacingAndGlyphs" >p.(Ser236Alafs*21)</text>
<line x1="439.10" y1="270.80" x2="452.20" y2="270.80" stroke="#444" stroke-width="1.3"/>
<polygon points="445.60,267.50 448.40,272.90 442.80,272.90" fill="#62a8e2"/>
<text x="455.90" y="272.70" font-size="6.2" text-anchor="start" fill="#2a2a2a" stroke="#2a2a2a" stroke-width="0.090" font-weight="normal" font-style="italic" textLength="26.11" lengthAdjust="spacingAndGlyphs" >DNMT3A:</text>
<text x="455.90" y="279.90" font-size="6.2" text-anchor="start" fill="#2a2a2a" stroke="#2a2a2a" stroke-width="0.090" font-weight="normal" font-style="normal" textLength="35.22" lengthAdjust="spacingAndGlyphs" >c.1842-2A&gt;G</text>
<line x1="439.10" y1="287.60" x2="452.20" y2="287.60" stroke="#444" stroke-width="1.3"/>
<polygon points="442.80,285.50 448.40,285.50 445.60,290.90" fill="#e6911e"/>
<text x="455.90" y="289.50" font-size="6.2" text-anchor="start" fill="#2a2a2a" stroke="#2a2a2a" stroke-width="0.090" font-weight="normal" font-style="italic" textLength="20.28" lengthAdjust="spacingAndGlyphs" >GATA2:</text>
<text x="455.90" y="296.70" font-size="6.2" text-anchor="start" fill="#2a2a2a" stroke="#2a2a2a" stroke-width="0.090" font-weight="normal" font-style="normal" textLength="29.43" lengthAdjust="spacingAndGlyphs" >p.(Tyr376*)</text>
<line x1="439.10" y1="305.10" x2="452.20" y2="305.10" stroke="#444" stroke-width="1.3"/>
<polygon points="445.60,302.30 448.40,305.10 445.60,307.90 442.80,305.10" fill="#4b2468"/>
<text x="455.90" y="307.00" font-size="6.2" text-anchor="start" fill="#2a2a2a" stroke="#2a2a2a" stroke-width="0.090" font-weight="normal" font-style="italic" textLength="18.18" lengthAdjust="spacingAndGlyphs" >NPM1:</text>
<text x="455.90" y="314.20" font-size="6.2" text-anchor="start" fill="#2a2a2a" stroke="#2a2a2a" stroke-width="0.090" font-weight="normal" font-style="normal" textLength="51.36" lengthAdjust="spacingAndGlyphs" >p.(Trp288Cysfs*12)</text>
<text x="7.80" y="412.00" font-size="13.5" text-anchor="start" fill="#111" stroke="#111" stroke-width="0.150" font-weight="bold" font-style="normal" >E</text>
<text x="271.80" y="424.60" font-size="10.0" text-anchor="middle" fill="#2a2a2a" stroke="#2a2a2a" stroke-width="0.150" font-weight="normal" font-style="normal" textLength="47.60" lengthAdjust="spacingAndGlyphs" >GERMLINE</text>
<text x="271.80" y="655.00" font-size="10.2" text-anchor="middle" fill="#2a2a2a" stroke="#2a2a2a" stroke-width="0.150" font-weight="normal" font-style="normal" textLength="42.00" lengthAdjust="spacingAndGlyphs" >SOMATIC</text>
<circle cx="468.20" cy="404.20" r="2.95" fill="#6db543" stroke="#1a1a1a" stroke-width="1.0"/>
<text x="475.10" y="406.40" font-size="6.9" text-anchor="start" fill="#333" stroke="#333" stroke-width="0.090" font-weight="normal" font-style="normal" textLength="26.90" lengthAdjust="spacingAndGlyphs" stroke-opacity="0" font-family="Liberation Serif, serif" style="font-family:'Liberation Serif', serif">Splice site</text>
<circle cx="468.20" cy="414.13" r="2.95" fill="#7cb9ec" stroke="#1a1a1a" stroke-width="1.0"/>
<text x="475.10" y="416.33" font-size="6.9" text-anchor="start" fill="#333" stroke="#333" stroke-width="0.090" font-weight="normal" font-style="normal" textLength="23.70" lengthAdjust="spacingAndGlyphs" stroke-opacity="0" font-family="Liberation Serif, serif" style="font-family:'Liberation Serif', serif">Missense</text>
<circle cx="468.20" cy="424.06" r="2.95" fill="#d2d2d4" stroke="#1a1a1a" stroke-width="1.0"/>
<text x="475.10" y="426.26" font-size="6.9" text-anchor="start" fill="#333" stroke="#333" stroke-width="0.090" font-weight="normal" font-style="normal" textLength="28.30" lengthAdjust="spacingAndGlyphs" stroke-opacity="0" font-family="Liberation Serif, serif" style="font-family:'Liberation Serif', serif">Frameshift</text>
<circle cx="468.20" cy="433.99" r="2.95" fill="#f3c11b" stroke="#1a1a1a" stroke-width="1.0"/>
<text x="475.10" y="436.19" font-size="6.9" text-anchor="start" fill="#333" stroke="#333" stroke-width="0.090" font-weight="normal" font-style="normal" textLength="36.90" lengthAdjust="spacingAndGlyphs" stroke-opacity="0" font-family="Liberation Serif, serif" style="font-family:'Liberation Serif', serif">In-frame indel</text>
<circle cx="468.20" cy="443.92" r="2.95" fill="#b0072d" stroke="#1a1a1a" stroke-width="1.0"/>
<text x="475.10" y="446.12" font-size="6.9" text-anchor="start" fill="#333" stroke="#333" stroke-width="0.090" font-weight="normal" font-style="normal" textLength="26.00" lengthAdjust="spacingAndGlyphs" stroke-opacity="0" font-family="Liberation Serif, serif" style="font-family:'Liberation Serif', serif">Stop-gain</text>
<rect x="19.5" y="470.5" width="487.2" height="23.30000000000001" fill="#fff" stroke="#1a1a1a" stroke-width="1.15"/>
<rect x="97.5" y="470.5" width="128.8" height="23.30000000000001" fill="#cf8e82" stroke="#1a1a1a" stroke-width="1.15"/>
<rect x="292.7" y="470.5" width="171.3" height="23.30000000000001" fill="#7a85aa" stroke="#1a1a1a" stroke-width="1.15"/>
<text x="161.90" y="485.30" font-size="10.4" text-anchor="middle" fill="#1a1a1a" stroke="#1a1a1a" stroke-width="0.150" font-weight="normal" font-style="normal" textLength="28.40" lengthAdjust="spacingAndGlyphs" >RUNT</text>
<text x="378.60" y="485.30" font-size="10.4" text-anchor="middle" fill="#1a1a1a" stroke="#1a1a1a" stroke-width="0.150" font-weight="normal" font-style="normal" textLength="20.40" lengthAdjust="spacingAndGlyphs" >TAD</text>
<text x="19.50" y="464.70" font-size="7.2" text-anchor="middle" fill="#2a2a2a" stroke="#2a2a2a" stroke-width="0.150" font-weight="normal" font-style="normal" >1</text>
<text x="97.50" y="464.70" font-size="7.2" text-anchor="middle" fill="#2a2a2a" stroke="#2a2a2a" stroke-width="0.150" font-weight="normal" font-style="normal" >77</text>
<text x="226.40" y="464.70" font-size="7.2" text-anchor="middle" fill="#2a2a2a" stroke="#2a2a2a" stroke-width="0.150" font-weight="normal" font-style="normal" >204</text>
<text x="292.20" y="464.70" font-size="7.2" text-anchor="middle" fill="#2a2a2a" stroke="#2a2a2a" stroke-width="0.150" font-weight="normal" font-style="normal" >269</text>
<text x="462.70" y="464.70" font-size="7.2" text-anchor="middle" fill="#2a2a2a" stroke="#2a2a2a" stroke-width="0.150" font-weight="normal" font-style="normal" >438</text>
<text x="506.30" y="464.70" font-size="7.2" text-anchor="middle" fill="#2a2a2a" stroke="#2a2a2a" stroke-width="0.150" font-weight="normal" font-style="normal" >480</text>
<line x1="53.00" y1="451.50" x2="53.00" y2="470.50" stroke="#111" stroke-width="1.3"/>
<circle cx="53.00" cy="451.50" r="3.00" fill="#6db543" stroke="#222" stroke-width="0.9"/>
<circle cx="53.00" cy="445.00" r="3.00" fill="#6db543" stroke="#222" stroke-width="0.9"/>
<text x="62.00" y="446.80" font-size="6.8" text-anchor="start" fill="#2a2a2a" stroke="#2a2a2a" stroke-width="0.090" font-weight="normal" font-style="normal" textLength="47.00" lengthAdjust="spacingAndGlyphs" >c.97+1G&gt;A (2)</text>
<line x1="254.80" y1="451.30" x2="254.80" y2="470.50" stroke="#111" stroke-width="1.3"/>
<circle cx="254.80" cy="451.30" r="3.00" fill="#7cb9ec" stroke="#222" stroke-width="0.9"/>
<text x="260.40" y="445.20" font-size="6.8" text-anchor="start" fill="#2a2a2a" stroke="#2a2a2a" stroke-width="0.090" font-weight="normal" font-style="normal" textLength="44.80" lengthAdjust="spacingAndGlyphs" >p.(Arg232Trp)</text>
<polyline points="101.89,493.80 101.89,497.60 25.50,514.00" fill="none" stroke="#1a1a1a" stroke-width="0.95"/>
<polyline points="106.97,493.80 106.97,497.60 36.25,514.00" fill="none" stroke="#1a1a1a" stroke-width="0.95"/>
<polyline points="127.31,493.80 127.31,497.60 47.00,514.00" fill="none" stroke="#1a1a1a" stroke-width="0.95"/>
<polyline points="130.37,493.80 130.37,497.60 57.60,514.00" fill="none" stroke="#1a1a1a" stroke-width="0.95"/>
<polyline points="131.38,493.80 131.38,497.60 68.50,514.00" fill="none" stroke="#1a1a1a" stroke-width="0.95"/>
<polyline points="137.49,493.80 137.49,497.60 79.50,514.00" fill="none" stroke="#1a1a1a" stroke-width="0.95"/>
<polyline points="143.59,493.80 143.59,497.60 90.00,514.00" fill="none" stroke="#1a1a1a" stroke-width="0.95"/>
<polyline points="145.62,493.80 145.62,497.60 100.60,514.00" fill="none" stroke="#1a1a1a" stroke-width="0.95"/>
<polyline points="149.69,493.80 149.69,497.60 111.70,514.00" fill="none" stroke="#1a1a1a" stroke-width="0.95"/>
<polyline points="161.90,493.80 161.90,497.60 124.40,514.00" fill="none" stroke="#1a1a1a" stroke-width="0.95"/>
<polyline points="162.91,493.80 162.91,497.60 135.40,514.00" fill="none" stroke="#1a1a1a" stroke-width="0.95"/>
<polyline points="179.19,493.80 179.19,497.60 146.30,514.00" fill="none" stroke="#1a1a1a" stroke-width="0.95"/>
<polyline points="186.31,493.80 186.31,497.60 158.00,514.00" fill="none" stroke="#1a1a1a" stroke-width="0.95"/>
<polyline points="187.32,493.80 187.32,497.60 168.80,514.00" fill="none" stroke="#1a1a1a" stroke-width="0.95"/>
<polyline points="190.38,493.80 190.38,497.60 179.50,514.00" fill="none" stroke="#1a1a1a" stroke-width="0.95"/>
<polyline points="191.50,493.80 191.50,497.60 190.30,514.00" fill="none" stroke="#1a1a1a" stroke-width="0.95"/>
<polyline points="195.46,493.80 195.46,497.60 201.20,514.00" fill="none" stroke="#1a1a1a" stroke-width="0.95"/>
<polyline points="197.50,493.80 197.50,497.60 212.00,514.00" fill="none" stroke="#1a1a1a" stroke-width="0.95"/>
<polyline points="206.65,493.80 206.65,497.60 222.60,514.00" fill="none" stroke="#1a1a1a" stroke-width="0.95"/>
<polyline points="208.68,493.80 208.68,497.60 233.40,514.00" fill="none" stroke="#1a1a1a" stroke-width="0.95"/>
<polyline points="219.87,493.80 219.87,497.60 244.20,514.00" fill="none" stroke="#1a1a1a" stroke-width="0.95"/>
<polyline points="222.92,493.80 222.92,497.60 255.00,514.00" fill="none" stroke="#1a1a1a" stroke-width="0.95"/>
<polyline points="225.98,493.80 225.98,497.60 265.90,514.00" fill="none" stroke="#1a1a1a" stroke-width="0.95"/>
<polyline points="229.03,493.80 229.03,497.60 292.60,514.00" fill="none" stroke="#1a1a1a" stroke-width="0.95"/>
<polyline points="239.20,493.80 239.20,497.60 303.30,514.00" fill="none" stroke="#1a1a1a" stroke-width="0.95"/>
<polyline points="258.52,493.80 258.52,497.60 314.20,514.00" fill="none" stroke="#1a1a1a" stroke-width="0.95"/>
<polyline points="277.85,493.80 277.85,497.60 325.00,514.00" fill="none" stroke="#1a1a1a" stroke-width="0.95"/>
<polyline points="283.44,493.80 283.44,497.60 335.80,514.00" fill="none" stroke="#1a1a1a" stroke-width="0.95"/>
<polyline points="296.20,493.80 296.20,497.60 361.20,514.00" fill="none" stroke="#1a1a1a" stroke-width="0.95"/>
<polyline points="341.93,493.80 341.93,497.60 372.00,514.00" fill="none" stroke="#1a1a1a" stroke-width="0.95"/>
<polyline points="343.96,493.80 343.96,497.60 383.00,514.00" fill="none" stroke="#1a1a1a" stroke-width="0.95"/>
<polyline points="360.23,493.80 360.23,497.60 393.80,514.00" fill="none" stroke="#1a1a1a" stroke-width="0.95"/>
<polyline points="415.16,493.80 415.16,497.60 404.50,514.00" fill="none" stroke="#1a1a1a" stroke-width="0.95"/>
<polyline points="433.47,493.80 433.47,497.60 415.20,514.00" fill="none" stroke="#1a1a1a" stroke-width="0.95"/>
<polyline points="440.59,493.80 440.59,497.60 425.90,514.00" fill="none" stroke="#1a1a1a" stroke-width="0.95"/>
<polyline points="451.78,493.80 451.78,497.60 436.80,514.00" fill="none" stroke="#1a1a1a" stroke-width="0.95"/>
<circle cx="25.50" cy="517.00" r="3.00" fill="#d2d2d4" stroke="#1a1a1a" stroke-width="0.95"/>
<text transform="translate(27.40,523.60) rotate(-90)" x="0" y="0" font-size="6.6" text-anchor="end" fill="#2a2a2a" stroke="#2a2a2a" stroke-width="0.15" textLength="57.62" lengthAdjust="spacingAndGlyphs">p.(Leu82Profs*53)</text>
<circle cx="36.25" cy="517.00" r="3.00" fill="#d2d2d4" stroke="#1a1a1a" stroke-width="0.95"/>
<text transform="translate(38.15,523.60) rotate(-90)" x="0" y="0" font-size="6.6" text-anchor="end" fill="#2a2a2a" stroke="#2a2a2a" stroke-width="0.15" textLength="56.43" lengthAdjust="spacingAndGlyphs">p.(Gly87Argfs*36)</text>
<circle cx="47.00" cy="517.00" r="3.00" fill="#7cb9ec" stroke="#1a1a1a" stroke-width="0.95"/>
<circle cx="47.00" cy="523.00" r="3.00" fill="#7cb9ec" stroke="#1a1a1a" stroke-width="0.95"/>
<text transform="translate(48.90,529.60) rotate(-90)" x="0" y="0" font-size="6.6" text-anchor="end" fill="#2a2a2a" stroke="#2a2a2a" stroke-width="0.15" textLength="56.42" lengthAdjust="spacingAndGlyphs">p.(Arg107Cys) (2)</text>
<circle cx="57.60" cy="517.00" r="3.00" fill="#7cb9ec" stroke="#1a1a1a" stroke-width="0.95"/>
<circle cx="57.60" cy="523.00" r="3.00" fill="#7cb9ec" stroke="#1a1a1a" stroke-width="0.95"/>
<text transform="translate(59.50,529.60) rotate(-90)" x="0" y="0" font-size="6.6" text-anchor="end" fill="#2a2a2a" stroke="#2a2a2a" stroke-width="0.15" textLength="56.82" lengthAdjust="spacingAndGlyphs">p.(Lys110Gln/Glu)</text>
<circle cx="68.50" cy="517.00" r="3.00" fill="#f3c11b" stroke="#1a1a1a" stroke-width="0.95"/>
<text transform="translate(70.40,523.60) rotate(-90)" x="0" y="0" font-size="6.6" text-anchor="end" fill="#2a2a2a" stroke="#2a2a2a" stroke-width="0.15" textLength="69.40" lengthAdjust="spacingAndGlyphs">p.(Thr111_Leu112del)</text>
<circle cx="79.50" cy="517.00" r="3.00" fill="#7cb9ec" stroke="#1a1a1a" stroke-width="0.95"/>
<text transform="translate(81.40,523.60) rotate(-90)" x="0" y="0" font-size="6.6" text-anchor="end" fill="#2a2a2a" stroke="#2a2a2a" stroke-width="0.15" textLength="44.99" lengthAdjust="spacingAndGlyphs">p.(Lys117Asn)</text>
<circle cx="90.00" cy="517.00" r="3.00" fill="#d2d2d4" stroke="#1a1a1a" stroke-width="0.95"/>
<text transform="translate(91.90,523.60) rotate(-90)" x="0" y="0" font-size="6.6" text-anchor="end" fill="#2a2a2a" stroke="#2a2a2a" stroke-width="0.15" textLength="61.56" lengthAdjust="spacingAndGlyphs">p.(Asp123Glyfs*15)</text>
<circle cx="100.60" cy="517.00" r="3.00" fill="#d2d2d4" stroke="#1a1a1a" stroke-width="0.95"/>
<text transform="translate(102.50,523.60) rotate(-90)" x="0" y="0" font-size="6.6" text-anchor="end" fill="#2a2a2a" stroke="#2a2a2a" stroke-width="0.15" textLength="56.82" lengthAdjust="spacingAndGlyphs">p.(Pro125Glnfs*8)</text>
<circle cx="111.70" cy="517.00" r="3.00" fill="#d2d2d4" stroke="#1a1a1a" stroke-width="0.95"/>
<text transform="translate(113.60,523.60) rotate(-90)" x="0" y="0" font-size="6.6" text-anchor="end" fill="#2a2a2a" stroke="#2a2a2a" stroke-width="0.15" textLength="57.62" lengthAdjust="spacingAndGlyphs">p.(Leu129Serfs*9)</text>
<circle cx="124.40" cy="517.00" r="3.00" fill="#b0072d" stroke="#1a1a1a" stroke-width="0.95"/>
<text transform="translate(126.30,523.60) rotate(-90)" x="0" y="0" font-size="6.6" text-anchor="end" fill="#2a2a2a" stroke="#2a2a2a" stroke-width="0.15" textLength="36.31" lengthAdjust="spacingAndGlyphs">p.(Ser141*)</text>
<circle cx="135.40" cy="517.00" r="3.00" fill="#7cb9ec" stroke="#1a1a1a" stroke-width="0.95"/>
<circle cx="135.40" cy="523.00" r="3.00" fill="#d2d2d4" stroke="#1a1a1a" stroke-width="0.95"/>
<text transform="translate(137.30,529.60) rotate(-90)" x="0" y="0" font-size="6.6" text-anchor="end" fill="#2a2a2a" stroke="#2a2a2a" stroke-width="0.15" textLength="70.80" lengthAdjust="spacingAndGlyphs">p.(Ala142Glyfs*2/Asp)</text>
<circle cx="146.30" cy="517.00" r="3.00" fill="#d2d2d4" stroke="#1a1a1a" stroke-width="0.95"/>
<text transform="translate(148.20,523.60) rotate(-90)" x="0" y="0" font-size="6.6" text-anchor="end" fill="#2a2a2a" stroke="#2a2a2a" stroke-width="0.15" textLength="63.15" lengthAdjust="spacingAndGlyphs">p.(Phe158Leufs*18)</text>
<circle cx="158.00" cy="517.00" r="3.00" fill="#7cb9ec" stroke="#1a1a1a" stroke-width="0.95"/>
<circle cx="158.00" cy="523.00" r="3.00" fill="#d2d2d4" stroke="#1a1a1a" stroke-width="0.95"/>
<text transform="translate(159.90,529.60) rotate(-90)" x="0" y="0" font-size="6.6" text-anchor="end" fill="#2a2a2a" stroke="#2a2a2a" stroke-width="0.15" textLength="72.30" lengthAdjust="spacingAndGlyphs">p.(Gly165Trpfs*12/Val)</text>
<circle cx="168.80" cy="517.00" r="3.00" fill="#7cb9ec" stroke="#1a1a1a" stroke-width="0.95"/>
<circle cx="168.80" cy="523.00" r="3.00" fill="#7cb9ec" stroke="#1a1a1a" stroke-width="0.95"/>
<circle cx="168.80" cy="529.00" r="3.00" fill="#7cb9ec" stroke="#1a1a1a" stroke-width="0.95"/>
<circle cx="168.80" cy="535.00" r="3.00" fill="#d2d2d4" stroke="#1a1a1a" stroke-width="0.95"/>
<text transform="translate(170.70,541.60) rotate(-90)" x="0" y="0" font-size="6.6" text-anchor="end" fill="#2a2a2a" stroke="#2a2a2a" stroke-width="0.15" textLength="103.40" lengthAdjust="spacingAndGlyphs">p.(Arg166Glufs*10/Gly/Gln/Leu)</text>
<circle cx="179.50" cy="517.00" r="3.00" fill="#f3c11b" stroke="#1a1a1a" stroke-width="0.95"/>
<text transform="translate(181.40,523.60) rotate(-90)" x="0" y="0" font-size="6.6" text-anchor="end" fill="#2a2a2a" stroke="#2a2a2a" stroke-width="0.15" textLength="89.45" lengthAdjust="spacingAndGlyphs">p.(Arg169_Gly170insValGly)</text>
<circle cx="190.30" cy="517.00" r="3.00" fill="#6db543" stroke="#1a1a1a" stroke-width="0.95"/>
<text transform="translate(192.20,523.60) rotate(-90)" x="0" y="0" font-size="6.6" text-anchor="end" fill="#2a2a2a" stroke="#2a2a2a" stroke-width="0.15" textLength="39.07" lengthAdjust="spacingAndGlyphs">c.508+2T&gt;C</text>
<circle cx="201.20" cy="517.00" r="3.00" fill="#d2d2d4" stroke="#1a1a1a" stroke-width="0.95"/>
<text transform="translate(203.10,523.60) rotate(-90)" x="0" y="0" font-size="6.6" text-anchor="end" fill="#2a2a2a" stroke="#2a2a2a" stroke-width="0.15" textLength="59.58" lengthAdjust="spacingAndGlyphs">p.(Thr174Hisfs*39)</text>
<circle cx="212.00" cy="517.00" r="3.00" fill="#7cb9ec" stroke="#1a1a1a" stroke-width="0.95"/>
<text transform="translate(213.90,523.60) rotate(-90)" x="0" y="0" font-size="6.6" text-anchor="end" fill="#2a2a2a" stroke="#2a2a2a" stroke-width="0.15" textLength="43.40" lengthAdjust="spacingAndGlyphs">p.(Thr176Ala)</text>
<circle cx="222.60" cy="517.00" r="3.00" fill="#d2d2d4" stroke="#1a1a1a" stroke-width="0.95"/>
<text transform="translate(224.50,523.60) rotate(-90)" x="0" y="0" font-size="6.6" text-anchor="end" fill="#2a2a2a" stroke="#2a2a2a" stroke-width="0.15" textLength="60.51" lengthAdjust="spacingAndGlyphs">p.(Gln185Lysfs*26)</text>
<circle cx="233.40" cy="517.00" r="3.00" fill="#7cb9ec" stroke="#1a1a1a" stroke-width="0.95"/>
<text transform="translate(235.30,523.60) rotate(-90)" x="0" y="0" font-size="6.6" text-anchor="end" fill="#2a2a2a" stroke="#2a2a2a" stroke-width="0.15" textLength="42.49" lengthAdjust="spacingAndGlyphs">p.(Ala187Val)</text>
<circle cx="244.20" cy="517.00" r="3.00" fill="#7cb9ec" stroke="#1a1a1a" stroke-width="0.95"/>
<text transform="translate(246.10,523.60) rotate(-90)" x="0" y="0" font-size="6.6" text-anchor="end" fill="#2a2a2a" stroke="#2a2a2a" stroke-width="0.15" textLength="45.38" lengthAdjust="spacingAndGlyphs">p.(Asp198Gly)</text>
<circle cx="255.00" cy="517.00" r="3.00" fill="#7cb9ec" stroke="#1a1a1a" stroke-width="0.95"/>
<circle cx="255.00" cy="523.00" r="3.00" fill="#7cb9ec" stroke="#1a1a1a" stroke-width="0.95"/>
<circle cx="255.00" cy="529.00" r="3.00" fill="#b0072d" stroke="#1a1a1a" stroke-width="0.95"/>
<text transform="translate(256.90,535.60) rotate(-90)" x="0" y="0" font-size="6.6" text-anchor="end" fill="#2a2a2a" stroke="#2a2a2a" stroke-width="0.15" textLength="64.50" lengthAdjust="spacingAndGlyphs">p.(Arg201*/Gln/Leu)</text>
<circle cx="265.90" cy="517.00" r="3.00" fill="#7cb9ec" stroke="#1a1a1a" stroke-width="0.95"/>
<text transform="translate(267.80,523.60) rotate(-90)" x="0" y="0" font-size="6.6" text-anchor="end" fill="#2a2a2a" stroke="#2a2a2a" stroke-width="0.15" textLength="44.59" lengthAdjust="spacingAndGlyphs">p.(Arg204Gln)</text>
<circle cx="292.60" cy="517.00" r="3.00" fill="#7cb9ec" stroke="#1a1a1a" stroke-width="0.95"/>
<text transform="translate(294.50,523.60) rotate(-90)" x="0" y="0" font-size="6.6" text-anchor="end" fill="#2a2a2a" stroke="#2a2a2a" stroke-width="0.15" textLength="43.93" lengthAdjust="spacingAndGlyphs">p.(Arg207Trp)</text>
<circle cx="303.30" cy="517.00" r="3.00" fill="#d2d2d4" stroke="#1a1a1a" stroke-width="0.95"/>
<text transform="translate(305.20,523.60) rotate(-90)" x="0" y="0" font-size="6.6" text-anchor="end" fill="#2a2a2a" stroke="#2a2a2a" stroke-width="0.15" textLength="55.30" lengthAdjust="spacingAndGlyphs">p.(Gly217Alafs*6)</text>
<circle cx="314.20" cy="517.00" r="3.00" fill="#7cb9ec" stroke="#1a1a1a" stroke-width="0.95"/>
<text transform="translate(316.10,523.60) rotate(-90)" x="0" y="0" font-size="6.6" text-anchor="end" fill="#2a2a2a" stroke="#2a2a2a" stroke-width="0.15" textLength="63.00" lengthAdjust="spacingAndGlyphs">p.(Met236Asnfs*25)</text>
<circle cx="325.00" cy="517.00" r="3.00" fill="#d2d2d4" stroke="#1a1a1a" stroke-width="0.95"/>
<text transform="translate(326.90,523.60) rotate(-90)" x="0" y="0" font-size="6.6" text-anchor="end" fill="#2a2a2a" stroke="#2a2a2a" stroke-width="0.15" textLength="59.58" lengthAdjust="spacingAndGlyphs">p.(His255Thrfs*56)</text>
<circle cx="335.80" cy="517.00" r="3.00" fill="#b0072d" stroke="#1a1a1a" stroke-width="0.95"/>
<text transform="translate(337.70,523.60) rotate(-90)" x="0" y="0" font-size="6.6" text-anchor="end" fill="#2a2a2a" stroke="#2a2a2a" stroke-width="0.15" textLength="35.91" lengthAdjust="spacingAndGlyphs">p.(Thr257*)</text>
<circle cx="361.20" cy="517.00" r="3.00" fill="#6db543" stroke="#1a1a1a" stroke-width="0.95"/>
<text transform="translate(363.10,523.60) rotate(-90)" x="0" y="0" font-size="6.6" text-anchor="end" fill="#2a2a2a" stroke="#2a2a2a" stroke-width="0.15" textLength="39.47" lengthAdjust="spacingAndGlyphs">c.805+1G&gt;T</text>
<circle cx="372.00" cy="517.00" r="3.00" fill="#d2d2d4" stroke="#1a1a1a" stroke-width="0.95"/>
<text transform="translate(373.90,523.60) rotate(-90)" x="0" y="0" font-size="6.6" text-anchor="end" fill="#2a2a2a" stroke="#2a2a2a" stroke-width="0.15" textLength="66.31" lengthAdjust="spacingAndGlyphs">p.(Ser318Phefs*282)</text>
<circle cx="383.00" cy="517.00" r="3.00" fill="#b0072d" stroke="#1a1a1a" stroke-width="0.95"/>
<text transform="translate(384.90,523.60) rotate(-90)" x="0" y="0" font-size="6.6" text-anchor="end" fill="#2a2a2a" stroke="#2a2a2a" stroke-width="0.15" textLength="36.31" lengthAdjust="spacingAndGlyphs">p.(Arg320*)</text>
<circle cx="393.80" cy="517.00" r="3.00" fill="#d2d2d4" stroke="#1a1a1a" stroke-width="0.95"/>
<text transform="translate(395.70,523.60) rotate(-90)" x="0" y="0" font-size="6.6" text-anchor="end" fill="#2a2a2a" stroke="#2a2a2a" stroke-width="0.15" textLength="66.31" lengthAdjust="spacingAndGlyphs">p.(Phe336Serfs*258)</text>
<circle cx="404.50" cy="517.00" r="3.00" fill="#d2d2d4" stroke="#1a1a1a" stroke-width="0.95"/>
<text transform="translate(406.40,523.60) rotate(-90)" x="0" y="0" font-size="6.6" text-anchor="end" fill="#2a2a2a" stroke="#2a2a2a" stroke-width="0.15" textLength="64.80" lengthAdjust="spacingAndGlyphs">p.(Gln390Profs*205)</text>
<circle cx="415.20" cy="517.00" r="3.00" fill="#d2d2d4" stroke="#1a1a1a" stroke-width="0.95"/>
<text transform="translate(417.10,523.60) rotate(-90)" x="0" y="0" font-size="6.6" text-anchor="end" fill="#2a2a2a" stroke="#2a2a2a" stroke-width="0.15" textLength="63.50" lengthAdjust="spacingAndGlyphs">p.(Gly408Valfs*193)</text>
<circle cx="425.90" cy="517.00" r="3.00" fill="#d2d2d4" stroke="#1a1a1a" stroke-width="0.95"/>
<text transform="translate(427.80,523.60) rotate(-90)" x="0" y="0" font-size="6.6" text-anchor="end" fill="#2a2a2a" stroke="#2a2a2a" stroke-width="0.15" textLength="63.50" lengthAdjust="spacingAndGlyphs">p.(Gln415Profs*185)</text>
<circle cx="436.80" cy="517.00" r="3.00" fill="#d2d2d4" stroke="#1a1a1a" stroke-width="0.95"/>
<text transform="translate(438.70,523.60) rotate(-90)" x="0" y="0" font-size="6.6" text-anchor="end" fill="#2a2a2a" stroke="#2a2a2a" stroke-width="0.15" textLength="63.50" lengthAdjust="spacingAndGlyphs">p.(Pro426Alafs*174)</text>
</svg></div></body></html>
